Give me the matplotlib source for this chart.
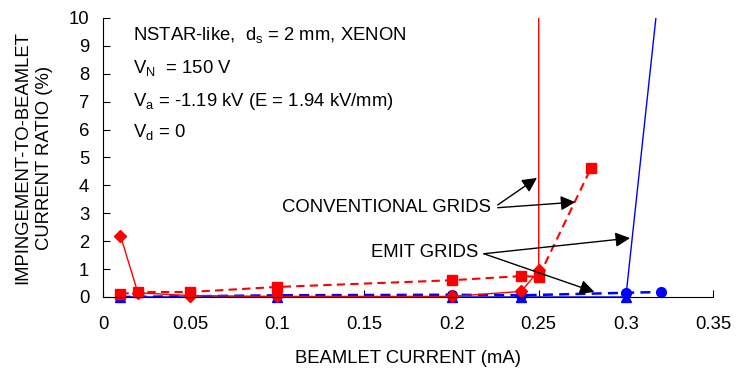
import matplotlib
matplotlib.use('Agg')
import numpy as np
from matplotlib import pyplot as plt

plt.rcParams['font.family'] = ['Liberation Sans', 'DejaVu Sans']

# conventional grids (red)
conv_solid_x = [0.01, 0.02, 0.05, 0.1, 0.2, 0.24, 0.25, 0.25]
conv_solid_y = [2.2, 0.15, 0.05, 0.02, 0.02, 0.2, 0.95, 12]
conv_dash_x = [0.01, 0.02, 0.05, 0.1, 0.2, 0.24, 0.25, 0.28]
conv_dash_y = [0.1, 0.18, 0.18, 0.36, 0.6, 0.75, 0.72, 4.62]

# emit grids (blue)
emit_solid_x = [0.01, 0.1, 0.2, 0.24, 0.3, 0.32]
emit_solid_y = [0.0, 0.0, 0.0, 0.0, 0.0, 11.6]
emit_dash_x = [0.01, 0.1, 0.2, 0.24, 0.3, 0.32]
emit_dash_y = [0.0, 0.06, 0.08, 0.06, 0.15, 0.18]

xticks = [0, 0.05, 0.1, 0.15, 0.2, 0.25, 0.3, 0.35]
xtick_labels = ['0', '0.05', '0.1', '0.15', '0.2', '0.25', '0.3', '0.35']
yticks = list(range(0, 11))

fig = plt.figure(figsize=(7.39, 3.71), dpi=100)
ax = fig.add_axes([0.1394, 0.1995, 0.8254, 0.752])

red = '#ff0000'
blue = '#0000ff'


def series(x, y, color, ls, lw, marker, ms):
    ax.plot(x, y, color=color, lw=lw, ls=ls)
    x = np.array(x)
    y = np.array(y)
    keep = y <= 10
    ax.plot(x[keep], y[keep], ls='none', marker=marker, ms=ms, color=color,
            clip_on=False)


series(emit_dash_x, emit_dash_y, blue, (0, (4, 2.5)), 1.8, 'o', 7)
series(emit_solid_x, emit_solid_y, blue, '-', 1.0, '^', 7)
series(conv_dash_x, conv_dash_y, red, (0, (4, 2.5)), 1.5, 's', 7)
series(conv_solid_x, conv_solid_y, red, '-', 1.0, 'D', 6.5)

ax.set_xlim(0, 0.35)
ax.set_ylim(0, 10)
ax.set_xticks(xticks)
ax.set_xticklabels(xtick_labels)
ax.set_yticks(yticks)
ax.tick_params(direction='in', length=5, labelsize=13.3, pad=14)
ax.tick_params(axis='y', pad=10)
for s in ['top', 'right']:
    ax.spines[s].set_visible(False)

ax.set_xlabel('BEAMLET CURRENT (mA)', fontsize=13.3, labelpad=12)
ax.set_ylabel('IMPINGEMENT-TO-BEAMLET\nCURRENT RATIO (%)', fontsize=13.3,
              labelpad=11, linespacing=1.35)

fs = 13.3
ax.text(0.017, 9.4, 'NSTAR-like,  d$_\\mathregular{s}$ = 2 mm, XENON', fontsize=fs, va='center')
ax.text(0.017, 8.2, 'V$_\\mathregular{N}$  = 150 V', fontsize=fs, va='center')
ax.text(0.017, 7.0, 'V$_\\mathregular{a}$ = -1.19 kV (E = 1.94 kV/mm)', fontsize=fs, va='center')
ax.text(0.017, 5.9, 'V$_\\mathregular{d}$ = 0', fontsize=fs, va='center')

arrow = dict(arrowstyle='-|>', color='black', lw=1.0, mutation_scale=22,
             shrinkA=0, shrinkB=0)
ax.text(0.2225, 3.2, 'CONVENTIONAL GRIDS', fontsize=fs, ha='right', va='center')
ax.annotate('', xy=(0.249, 4.27), xytext=(0.2265, 3.3), arrowprops=arrow)
ax.annotate('', xy=(0.271, 3.4), xytext=(0.2265, 3.2), arrowprops=arrow)
ax.text(0.2155, 1.6, 'EMIT GRIDS', fontsize=fs, ha='right', va='center')
ax.annotate('', xy=(0.3024, 2.11), xytext=(0.2185, 1.55), arrowprops=arrow)
ax.annotate('', xy=(0.282, 0.18), xytext=(0.2185, 1.55), arrowprops=arrow)

fig.savefig('out.png', dpi=100)
